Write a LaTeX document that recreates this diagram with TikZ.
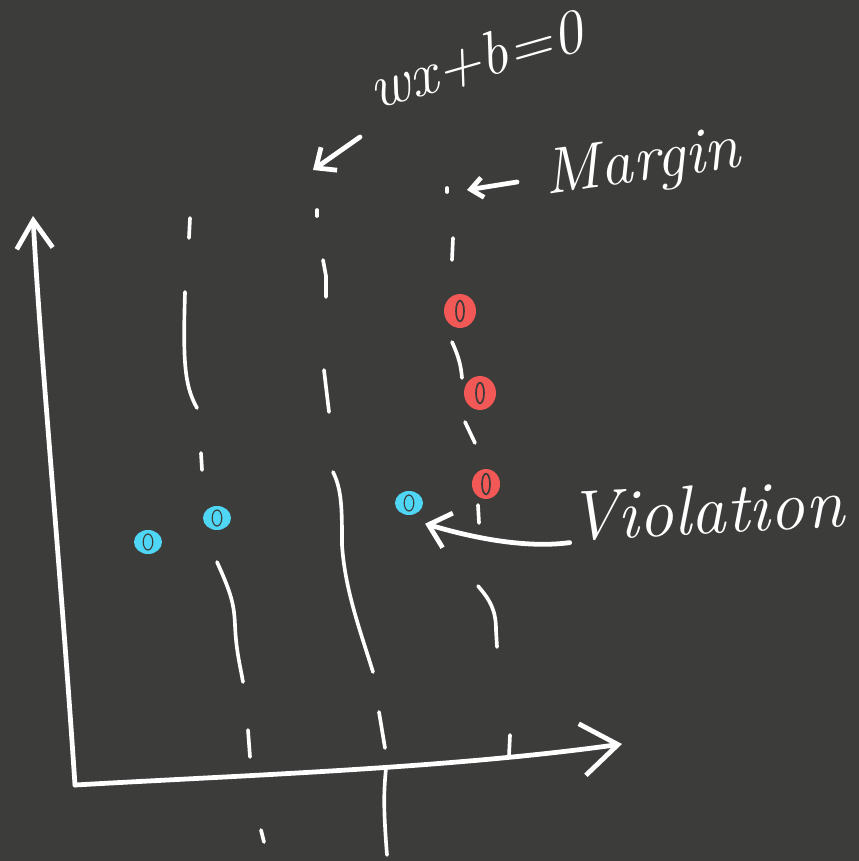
\documentclass[tikz,border=0pt]{standalone}
\usepackage{amsmath}
\usepackage{xcolor}
\usepackage{tikz}
\usetikzlibrary{arrows.meta,shapes.geometric}

\definecolor{board}{RGB}{60,60,59}
\definecolor{chalkblue}{RGB}{80,214,245}
\definecolor{chalkred}{RGB}{242,88,86}

\begin{document}
\begin{tikzpicture}[x=0.025cm,y=-0.025cm,
  chalk/.style={white,line width=3.4pt,line cap=round,line join=round},
  sepline/.style={white,line width=2.6pt,line cap=round,line join=round},
  bluept/.style={ellipse,fill=chalkblue,inner sep=0pt,minimum width=7mm,minimum height=6mm,
    path picture={\draw[board,line width=0.8pt,rotate=30] (path picture bounding box.center) ellipse (1.2mm and 2mm);}},
  redpt/.style={ellipse,fill=chalkred,inner sep=0pt,minimum width=8mm,minimum height=8.5mm,
    path picture={\draw[board,line width=1.2pt,rotate=20] (path picture bounding box.center) ellipse (1mm and 2.6mm);}},
  hand/.style={white,inner sep=0pt}]
  \fill[board] (0,0) rectangle (859,861);
  \useasboundingbox (0,0) rectangle (859,861);

  % axes
  \coordinate (o) at (75,785);
  \coordinate (ytip) at (33,216);
  \coordinate (xtip) at (622,744);
  \draw[chalk,-{Straight Barb[length=7mm,width=9mm]}] (o) .. controls (60,560) and (40,350) .. (ytip);
  \draw[chalk,-{Straight Barb[length=9mm,width=13mm]}] (o) .. controls (250,775) and (450,768) .. (xtip);

  % left margin
  \draw[sepline] (190,218) -- (189,238);
  \draw[sepline] (185,292) .. controls (183,360) and (184,385) .. (197,408);
  \draw[sepline] (201,453) -- (202,470);
  \draw[sepline] (217,562) .. controls (232,595) and (234,605) .. (235,625) .. controls (236,650) and (240,665) .. (243,682);
  \draw[sepline] (248,730) -- (250,757);
  \draw[sepline] (261,830) -- (264,842);

  % wx+b=0
  \draw[sepline] (317,210) -- (317,216);
  \draw[sepline] (323,260) -- (326,276) -- (326,297);
  \draw[sepline] (324,370) -- (329,412);
  \draw[sepline] (333,472) .. controls (342,490) and (342,510) .. (342,545) .. controls (345,590) and (360,630) .. (373,672);
  \draw[sepline] (379,712) -- (385,748);
  \draw[sepline] (386,768) .. controls (384,790) and (383,805) .. (387,855);

  % right margin
  \draw[sepline] (447,188) -- (447,192);
  \draw[sepline] (453,238) -- (452,260);
  \draw[sepline] (452,342) .. controls (458,355) and (461,365) .. (462,378);
  \draw[sepline] (465,422) -- (475,443);
  \draw[sepline] (478,505) -- (479,523);
  \draw[sepline] (478,586) .. controls (490,600) and (496,610) .. (496,630) -- (497,647);
  \draw[sepline] (510,735) -- (509,756);

  % points
  \node[bluept] (b1) at (148,542) {};
  \node[bluept] (b2) at (217,518) {};
  \node[bluept] (b3) at (409,503) {};
  \node[redpt] (r1) at (460,311) {};
  \node[redpt] (r2) at (480,393) {};
  \node[redpt,minimum width=7mm,minimum height=7.5mm] (r3) at (486,484) {};

  % labels
  \node[hand,rotate=16,font=\fontsize{44}{46}\selectfont\itshape] (eq) at (476,60) {wx+b=0};
  \node[hand,rotate=8,font=\fontsize{46}{48}\selectfont\itshape] (marg) at (642,165) {Margin};
  \node[hand,rotate=3,font=\fontsize{50}{52}\selectfont\itshape] (viol) at (706,510) {Violation};

  \coordinate (hyp) at (313,170);
  \coordinate (mline) at (467,190);
  \draw[chalk,-{Straight Barb[length=4mm,width=7mm]}] (360,137) -- (hyp);
  \draw[chalk,-{Straight Barb[length=3mm,width=5mm]}] (517,182) -- (mline);
  \draw[chalk,-{Straight Barb[length=5mm,width=9mm]}] (viol.south west) .. controls (530,548) and (480,540) .. ([shift={(6,12)}]b3.south east);
\end{tikzpicture}
\end{document}
